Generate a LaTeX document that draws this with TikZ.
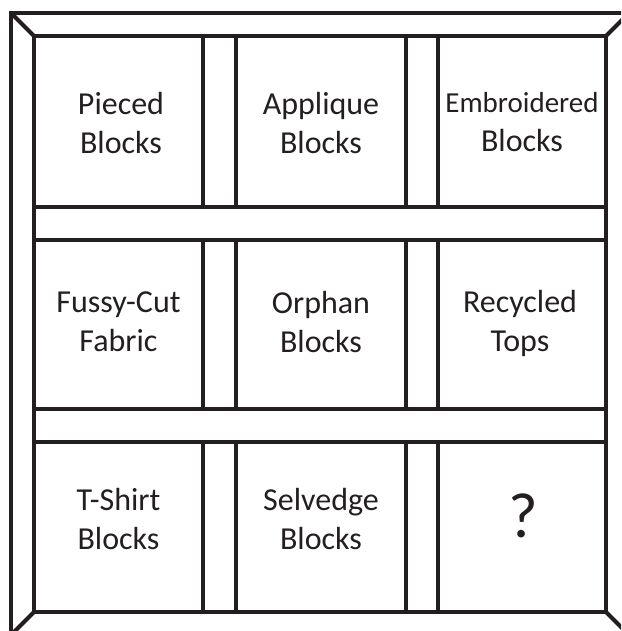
\documentclass[tikz,border=0pt]{standalone}
\usepackage{fontspec}
\setmainfont{Carlito}
\definecolor{ink}{HTML}{231F20}
\begin{document}
\begin{tikzpicture}[x=1pt,y=-1pt,
  rule/.style={draw=ink, line width=4pt, line join=miter},
  block/.style={rule, rectangle, inner sep=0pt, outer sep=0pt},
  lbl/.style={text=ink, align=center, inner sep=0pt, font=\fontsize{32}{39}\selectfont},
]
\useasboundingbox (0,0) rectangle (621,631);
\clip (0,0) rectangle (621,631);
% outer frame corners
\coordinate (o1) at (11,13);
\coordinate (o2) at (629,13);
\coordinate (o3) at (629,635);
\coordinate (o4) at (11,635);
\draw[rule] (o1) rectangle (o3);
% blocks
\node[block, minimum width=169pt, minimum height=171pt] (b11) at (118.5,121.5) {};
\node[block, minimum width=170pt, minimum height=171pt] (b12) at (321,121.5) {};
\node[block, minimum width=168pt, minimum height=171pt] (b13) at (522,121.5) {};
\node[block, minimum width=169pt, minimum height=169pt] (b21) at (118.5,324.5) {};
\node[block, minimum width=170pt, minimum height=169pt] (b22) at (321,324.5) {};
\node[block, minimum width=168pt, minimum height=169pt] (b23) at (522,324.5) {};
\node[block, minimum width=169pt, minimum height=170pt] (b31) at (118.5,527) {};
\node[block, minimum width=170pt, minimum height=170pt] (b32) at (321,527) {};
\node[block, minimum width=168pt, minimum height=170pt] (b33) at (522,527) {};
% inner frame and horizontal sashing lines
\draw[rule] (b11.north west) rectangle (b33.south east);
\draw[rule] (b11.south west) -- (b13.south east);
\draw[rule] (b21.north west) -- (b23.north east);
\draw[rule] (b21.south west) -- (b23.south east);
\draw[rule] (b31.north west) -- (b33.north east);
% mitred corners
\draw[rule] (o1) -- (b11.north west);
\draw[rule] (o2) -- (b13.north east);
\draw[rule] (o3) -- (b33.south east);
\draw[rule] (o4) -- (b31.south west);
% labels
\node[lbl] (t11) at (121,123) {Pieced\\Blocks};
\node[lbl] (t12) at (321,123) {Applique\\Blocks};
\node[lbl] (t13) at (522,122) {{\fontsize{29}{39}\selectfont Embroidered}\\Blocks};
\node[lbl] (t21) at (118.5,322) {Fussy-Cut\\Fabric};
\node[lbl] (t22) at (321,322) {Orphan\\Blocks};
\node[lbl] (t23) at (520,323) {Recycled\\Tops};
\node[lbl] (t31) at (118.5,519) {T-Shirt\\Blocks};
\node[lbl] (t32) at (321,519) {Selvedge\\Blocks};
\node[lbl, font=\fontsize{64}{64}\selectfont] (t33) at (523,516) {?};
\end{tikzpicture}
\end{document}
